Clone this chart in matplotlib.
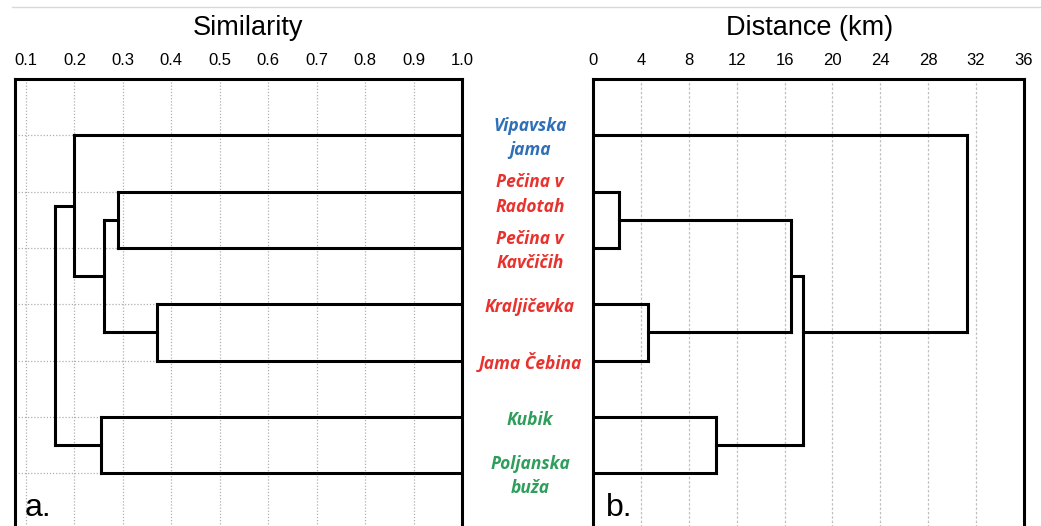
import matplotlib
matplotlib.use("Agg")
import matplotlib.pyplot as plt
from matplotlib.lines import Line2D

# ---------------- data ----------------
sites = ["Vipavska\njama", "Pečina v\nRadotah", "Pečina v\nKavčičih",
         "Kraljičevka", "Jama Čebina", "Kubik", "Poljanska\nbuža"]
site_colors = ["#2f6fb7", "#e8322e", "#e8322e", "#e8322e", "#e8322e",
               "#2f9e5c", "#2f9e5c"]

# merges: (child_a, child_b, height); leaves are 0..6, new nodes 7.. in order
similarity_merges = [(1, 2, 0.29), (3, 4, 0.37), (7, 8, 0.26),
                     (0, 9, 0.20), (5, 6, 0.255), (10, 11, 0.16)]
distance_merges = [(1, 2, 2.2), (3, 4, 4.6), (7, 8, 16.5),
                   (5, 6, 10.3), (9, 10, 17.5), (0, 11, 31.2)]

sim_ticks = [0.1, 0.2, 0.3, 0.4, 0.5, 0.6, 0.7, 0.8, 0.9, 1.0]
sim_ticklabels = ["0.1", "0.2", "0.3", "0.4", "0.5", "0.6", "0.7", "0.8", "0.9", "1.0"]
dist_ticks = [0, 4, 8, 12, 16, 20, 24, 28, 32, 36]
dist_ticklabels = [str(t) for t in dist_ticks]

SANS = ["Liberation Sans", "DejaVu Sans"]


def draw_dendrogram(ax, merges, leaf_height, rule):
    n = len(sites)
    pos = {i: float(i + 1) for i in range(n)}
    height = {i: leaf_height for i in range(n)}
    members = {i: [i] for i in range(n)}
    for k, (a, b, h) in enumerate(merges):
        node = n + k
        ya, yb = pos[a], pos[b]
        ax.plot([height[a], h], [ya, ya], color="black", lw=2.2,
                solid_capstyle="projecting", zorder=3)
        ax.plot([height[b], h], [yb, yb], color="black", lw=2.2,
                solid_capstyle="projecting", zorder=3)
        ax.plot([h, h], [ya, yb], color="black", lw=2.2,
                solid_capstyle="projecting", zorder=3)
        members[node] = members[a] + members[b]
        if rule == "mid":
            pos[node] = (ya + yb) / 2.0
        else:
            pos[node] = sum(pos[m] for m in members[node]) / len(members[node])
        height[node] = h


W, H = 1041, 526
fig = plt.figure(figsize=(W / 100, H / 100), dpi=100)

top_px, bot_px = 79, 530
ylo = (bot_px - top_px) / 56.33

def axes_px(x0, x1):
    return [x0 / W, 1 - bot_px / H, (x1 - x0) / W, (bot_px - top_px) / H]

# thin page line at top
fig.add_artist(Line2D([12 / W, 1.0], [1 - 7 / H, 1 - 7 / H], color="#d8d8d8",
                      lw=1.0, transform=fig.transFigure))

# ---- left: similarity ----
axL = fig.add_axes(axes_px(15, 462))
axL.set_xlim(0.1 - 11 / 484, 1.0)
axL.set_ylim(ylo, 0)
for t in sim_ticks[:-1]:
    axL.axvline(t, color="#b0b0b0", lw=0.9, ls=(0, (1, 1.5)), zorder=1)
for i in range(len(sites)):
    axL.axhline(i + 1, color="#b0b0b0", lw=0.9, ls=(0, (1, 1.5)), zorder=1)
draw_dendrogram(axL, similarity_merges, 1.0, "mid")
axL.xaxis.tick_top()
axL.set_xticks(sim_ticks)
axL.set_xticklabels(sim_ticklabels, family=SANS)
axL.set_yticks([])
axL.tick_params(axis="x", length=0, pad=8, labelsize=12)
for s in axL.spines.values():
    s.set_linewidth(2.2)
axL.text(0.022, 0.03, "a.", transform=axL.transAxes, fontsize=23,
         ha="left", va="baseline", family=SANS)

# ---- right: distance ----
axR = fig.add_axes(axes_px(593, 1024))
axR.set_xlim(0, 36)
axR.set_ylim(ylo, 0)
for t in dist_ticks[1:-1]:
    axR.axvline(t, color="#c0c0c0", lw=0.9, ls=(0, (2, 1.5)), zorder=1)
draw_dendrogram(axR, distance_merges, 0.0, "leafmean")
axR.xaxis.tick_top()
axR.set_xticks(dist_ticks)
axR.set_xticklabels(dist_ticklabels, family=SANS)
axR.set_yticks([])
axR.tick_params(axis="x", length=0, pad=8, labelsize=12)
for s in axR.spines.values():
    s.set_linewidth(2.2)
axR.text(0.03, 0.03, "b.", transform=axR.transAxes, fontsize=23,
         ha="left", va="baseline", family=SANS)

# titles
fig.text(248 / W, 1 - 28 / H, "Similarity", fontsize=19.5, ha="center",
         va="center", family=SANS)
fig.text(810 / W, 1 - 28 / H, "Distance (km)", fontsize=19.5, ha="center",
         va="center", family=SANS)

# site labels between the panels
for i, (name, col) in enumerate(zip(sites, site_colors)):
    axL.annotate(name, xy=(1.0, i + 1), xycoords=("data", "data"),
                 xytext=(49, -2), textcoords="offset points", ha="center",
                 va="center", color=col, fontsize=12.5, fontstyle="italic",
                 fontweight="bold", family=["Open Sans", "DejaVu Sans"],
                 linespacing=1.45, annotation_clip=False)

fig.savefig("out.png", dpi=100)
